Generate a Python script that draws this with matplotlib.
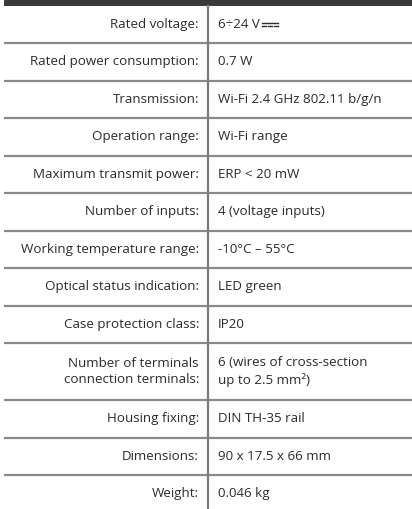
import matplotlib
matplotlib.use("Agg")
import matplotlib.pyplot as plt

labels = ["Rated voltage:", "Rated power consumption:", "Transmission:",
          "Operation range:", "Maximum transmit power:", "Number of inputs:",
          "Working temperature range:", "Optical status indication:",
          "Case protection class:", "Number of terminals\nconnection terminals:",
          "Housing fixing:", "Dimensions:", "Weight:"]
values = ["6÷24 V", "0.7 W", "Wi-Fi 2.4 GHz 802.11 b/g/n", "Wi-Fi range",
          "ERP < 20 mW", "4 (voltage inputs)", "-10°C – 55°C", "LED green",
          "IP20", "6 (wires of cross-section\nup to 2.5 mm²)",
          "DIN TH-35 rail", "90 x 17.5 x 66 mm", "0.046 kg"]

W, H = 412, 509
fig = plt.figure(figsize=(W / 100, H / 100), dpi=100)
ax = fig.add_axes([0, 0, 1, 1])
ax.set_xlim(0, W)
ax.set_ylim(H, 0)
ax.axis("off")

plt.rcParams['font.family'] = ['Open Sans', 'DejaVu Sans']
txt = "#2b2b2b"
line_c = "#8a8a8a"
div_x = 208
top = 5.5
single_h = 37.5
double_h = 57

# dark header strip
ax.fill_between([4, W], 0, top, color="#3a3a3a", lw=0)

y = top
for i, (lab, val) in enumerate(zip(labels, values)):
    h = double_h if "\n" in lab else single_h
    mid = y + h / 2
    ax.text(199, mid, lab, ha="right", va="center", fontsize=9.6, color=txt,
            linespacing=1.3)
    t = ax.text(218, mid, val, ha="left", va="center", fontsize=9.6, color=txt,
                linespacing=1.3)
    if i == 0:
        # DC symbol after the voltage value
        fig.canvas.draw()
        bb = t.get_window_extent().transformed(ax.transData.inverted())
        x0 = bb.x1 + 2
        ax.plot([x0, x0 + 16], [mid - 1.5, mid - 1.5], color=txt, lw=1.0)
        for k in range(3):
            ax.plot([x0 + k * 6, x0 + k * 6 + 4], [mid + 2, mid + 2], color=txt, lw=1.0)
    y += h
    if i < len(labels) - 1:
        ax.plot([4, W], [y, y], color=line_c, lw=1.6, solid_capstyle="butt")

ax.plot([div_x, div_x], [top, H], color="#7a7a7a", lw=1.6)

fig.savefig("out.png", dpi=100, facecolor="white")
